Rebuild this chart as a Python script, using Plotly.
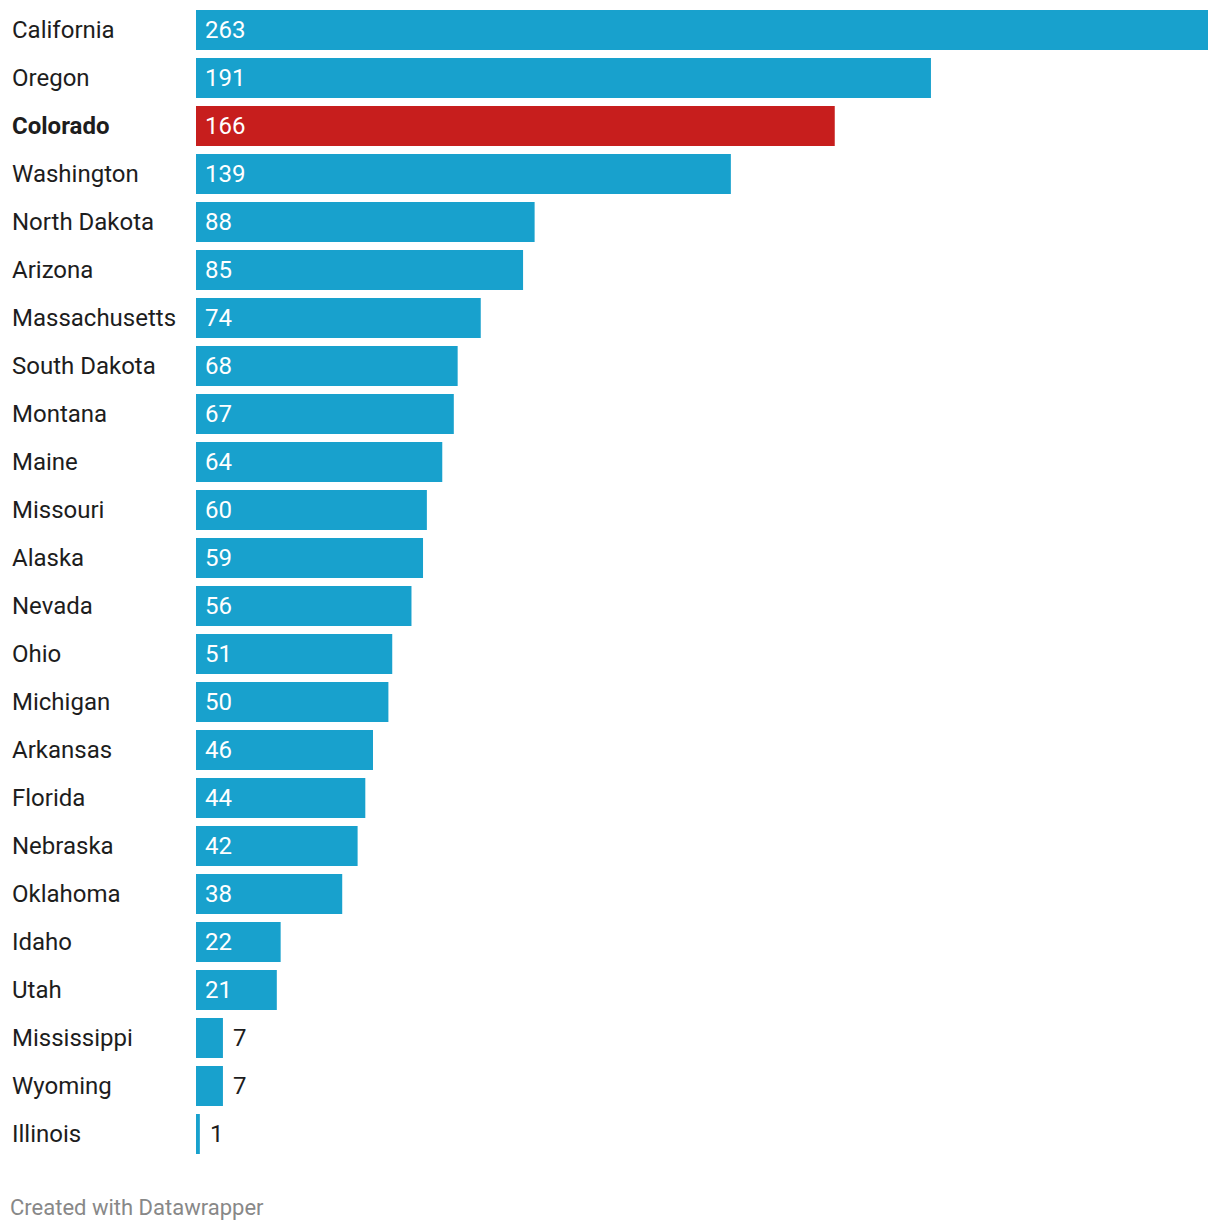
import plotly.graph_objects as go

states = ["California", "Oregon", "Colorado", "Washington", "North Dakota", "Arizona",
          "Massachusetts", "South Dakota", "Montana", "Maine", "Missouri", "Alaska",
          "Nevada", "Ohio", "Michigan", "Arkansas", "Florida", "Nebraska", "Oklahoma",
          "Idaho", "Utah", "Mississippi", "Wyoming", "Illinois"]
values = [263, 191, 166, 139, 88, 85, 74, 68, 67, 64, 60, 59, 56, 51, 50, 46, 44, 42, 38,
          22, 21, 7, 7, 1]
highlight = "Colorado"

BLUE = "#18a1cd"
RED = "#c71e1d"
FONT = "Roboto"

# page has an 8px body margin; compensate
OFF = 8
W, H = 1220 - OFF, 1230 - OFF
ML, MR, MT, MB = 196 - OFF, 12, 0, 64
plot_w = W - ML - MR
plot_h = H - MT - MB
ROW = 48
first_center = 30 - OFF  # fig px
y_top = (0 - first_center) / ROW
y_bot = (plot_h - first_center) / ROW

colors = [RED if s == highlight else BLUE for s in states]

fig = go.Figure(go.Bar(
    x=values, y=states, orientation="h",
    marker=dict(color=colors, line=dict(width=0)),
    hoverinfo="skip",
))

FS = 24
annotations = []
for s, v in zip(states, values):
    label = f"<b>{s}</b>" if s == highlight else s
    annotations.append(dict(
        x=-(ML - 2) / plot_w, xref="paper", y=s, yref="y",
        text=label, showarrow=False, xanchor="left", yanchor="middle",
        font=dict(family=FONT, size=FS, color="#1d1d1d"),
    ))
    if v >= 15:
        annotations.append(dict(
            x=0, xref="x", y=s, yref="y", text=str(v), showarrow=False,
            xanchor="left", yanchor="middle", xshift=7,
            font=dict(family=FONT, size=FS, color="white"),
        ))
    else:
        annotations.append(dict(
            x=v, xref="x", y=s, yref="y", text=str(v), showarrow=False,
            xanchor="left", yanchor="middle", xshift=8,
            font=dict(family=FONT, size=FS, color="#1d1d1d"),
        ))

annotations.append(dict(
    x=-ML / plot_w, xref="paper", y=0, yref="paper", yshift=-((1207 - OFF) - (H - MB)),
    text="Created with Datawrapper",
    showarrow=False, xanchor="left", yanchor="middle",
    font=dict(family=FONT, size=22, color="#888888"),
))

fig.update_layout(
    width=W, height=H,
    margin=dict(l=ML, r=MR, t=MT, b=MB, pad=0),
    paper_bgcolor="white", plot_bgcolor="white",
    bargap=8 / 48,
    showlegend=False,
    xaxis=dict(range=[0, max(values)], visible=False, fixedrange=True),
    yaxis=dict(categoryorder="array", categoryarray=states, range=[y_bot, y_top],
               visible=False, fixedrange=True),
    annotations=annotations,
    font=dict(family=FONT),
)

fig.write_html("out.html", config={"displayModeBar": False})
